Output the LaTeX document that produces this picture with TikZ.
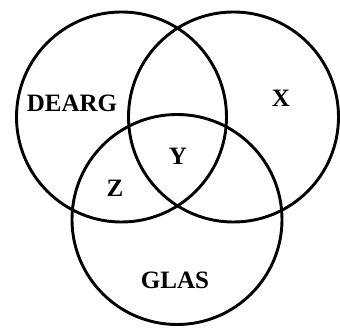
\documentclass[tikz,border=0pt]{standalone}
\usepackage{fontspec}
\setmainfont{Liberation Serif}

\tikzset{
  setring/.style={line width=2.9pt},
  setlabel/.style={font=\fontsize{25}{25}\selectfont\bfseries, anchor=center}
}

\begin{document}
\begin{tikzpicture}[x=1pt, y=1pt]

  \useasboundingbox (0,0) rectangle (340,327);

  % the three sets
  \draw[setring] (121.5,210) circle (105);
  \draw[setring] (233.5,210) circle (105);
  \draw[setring] (177,107.5) circle (105);

  % region labels
  \node[setlabel] (dearg) at (72,224) {DEARG};
  \node[setlabel] (xset) at (281,229) {X};
  \node[setlabel] (yset) at (178,171) {Y};
  \node[setlabel] (zset) at (115,139) {Z};
  \node[setlabel] (glas) at (175,47) {GLAS};

\end{tikzpicture}
\end{document}
